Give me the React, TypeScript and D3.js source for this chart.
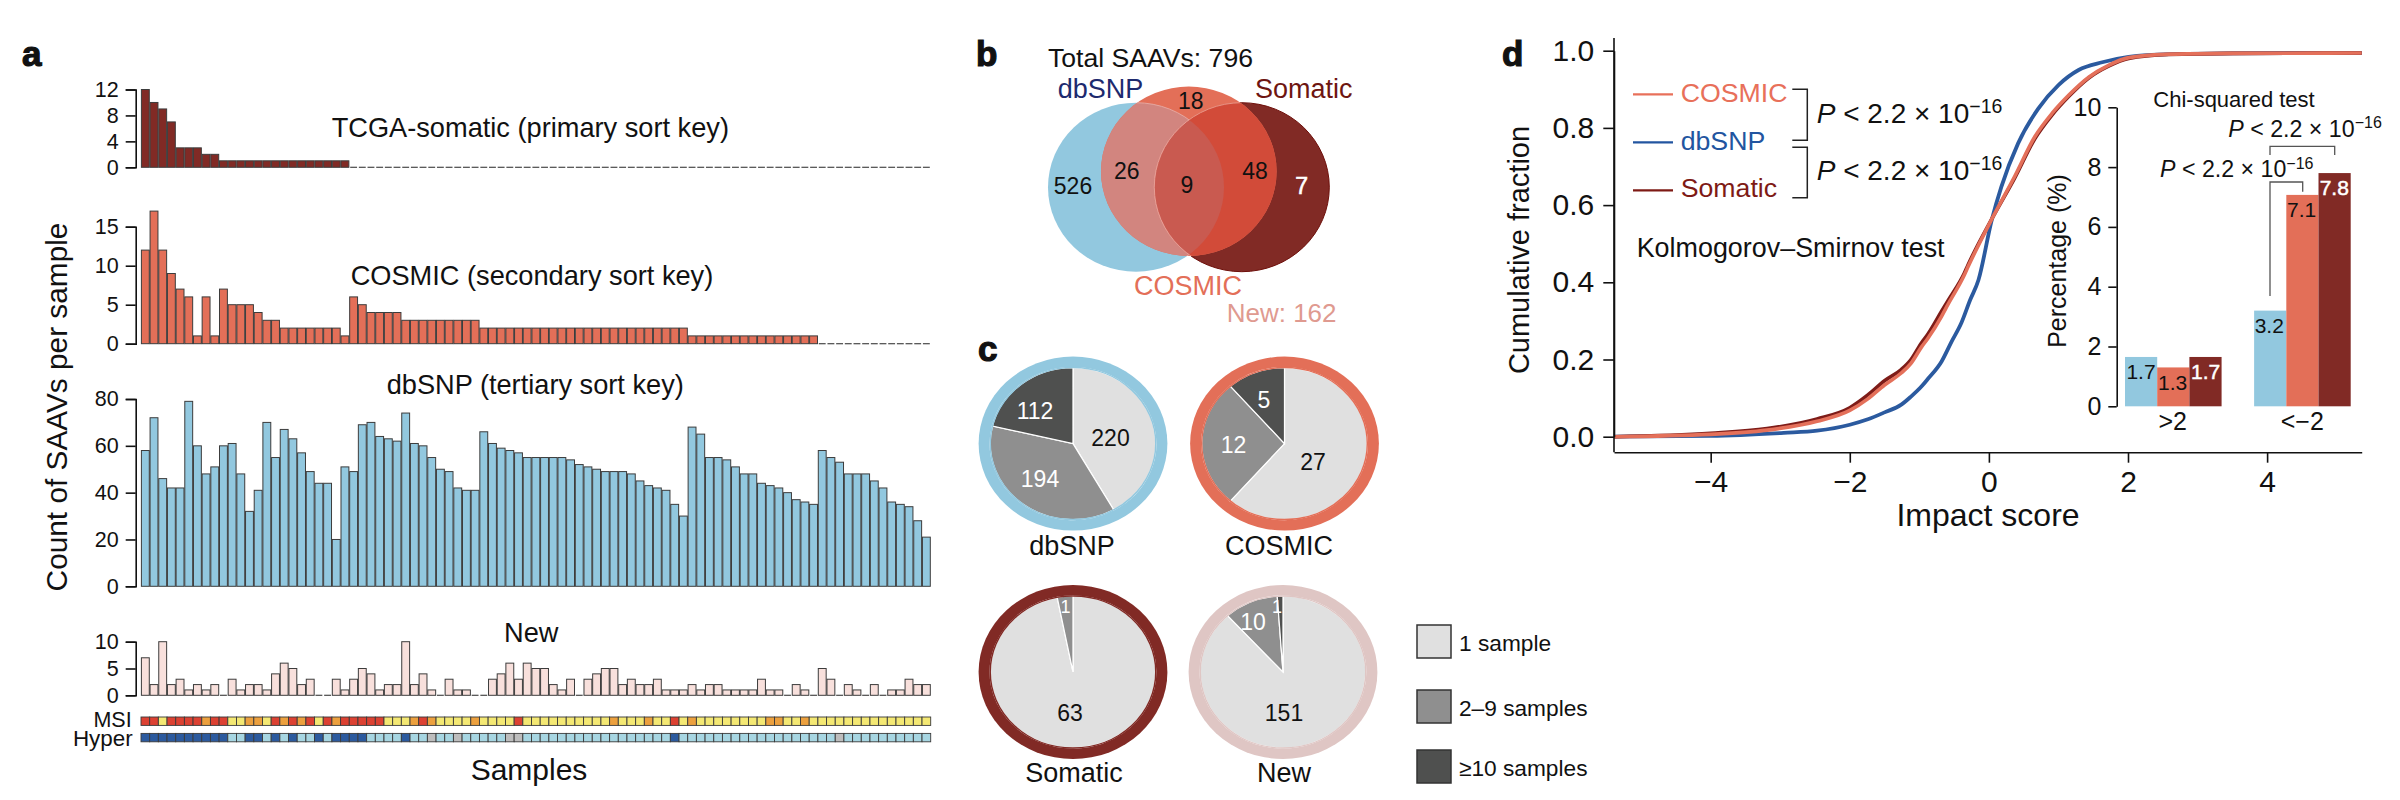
import React, { useEffect, useRef } from "react";
import * as d3 from "d3";

const FONT = "'Liberation Sans', Arial, Helvetica, sans-serif";

// ---- Panel a ----
const somaticCounts = [12,10,9,7,3,3,3,2,2,1,1,1,1,1,1,1,1,1,1,1,1,1,1,1,0,0,0,0,0,0,0,0,0,0,0,0,0,0,0,0,0,0,0,0,0,0,0,0,0,0,0,0,0,0,0,0,0,0,0,0,0,0,0,0,0,0,0,0,0,0,0,0,0,0,0,0,0,0,0,0,0,0,0,0,0,0,0,0,0,0,0];
const cosmicCounts = [12,17,12,9,7,6,1,6,1,7,5,5,5,4,3,3,2,2,2,2,2,2,2,1,6,5,4,4,4,4,3,3,3,3,3,3,3,3,3,2,2,2,2,2,2,2,2,2,2,2,2,2,2,2,2,2,2,2,2,2,2,2,2,1,1,1,1,1,1,1,1,1,1,1,1,1,1,1,0,0,0,0,0,0,0,0,0,0,0,0,0];
const dbsnpCounts = [58,72,46,42,42,79,60,48,51,60,61,48,32,41,70,55,67,63,57,49,44,44,20,51,49,69,70,64,63,62,74,61,60,55,50,49,42,41,41,66,61,59,58,57,55,55,55,55,55,54,52,51,50,49,49,49,48,45,43,42,41,35,30,68,65,55,55,54,51,48,48,44,43,42,40,37,36,35,58,55,53,48,48,48,45,42,36,35,34,28,21];
const newCounts = [7,2,10,2,3,1,2,1,2,0,3,1,2,2,1,4,6,5,2,3,0,0,3,1,3,5,4,1,2,2,10,2,4,1,0,3,1,1,0,0,3,4,6,3,6,5,5,2,1,3,0,3,4,5,5,2,3,2,2,3,1,1,1,2,1,2,2,1,1,1,1,3,1,1,0,2,1,0,5,3,0,2,1,0,2,0,1,1,3,2,2];
const msiStatus = "RRYRRRRORRYYOOYRORORYRORRRRRYYYOROYYYYOYYYYRYYYYYYYYYYOYYYOYYRYOYYYYYYYYOOYYOYYYYYYYYYYYYYY".split("");
const hyperStatus = "BBBBBBBBBBLLBBLBLBLLBLBBBBLLLLBLLGLLGLLLLLGGLLLLLLLLLLLLLLLLLBLLLLLLLLLLLLLLLLLLGLLLLLLLLLL".split("");
const msiColors: Record<string, string> = { R: "#dc4132", O: "#eca03e", Y: "#f4e873" };
const hyperColors: Record<string, string> = { B: "#2c5a9e", L: "#a7d6e2", G: "#bdbdbd" };

// ---- Panel b ----
const vennLabels = ["526", "26", "9", "48", "7", "18"];

// ---- Panel c ----
const sharingLevels = ["1 sample", "2–9 samples", "≥10 samples"];
const dbsnpSharing = [220, 194, 112];
const cosmicSharing = [27, 12, 5];
const somaticSharing = [63, 1];
const newSharing = [151, 10, 1];
// the two pies with tiny slices are not drawn to count in the reference: degrees
const somaticSliceDegrees = [349, 11];
const newSliceDegrees = [318, 38, 4];

// ---- Panel d ----
const dbsnpCurveX = [-5.39,-4,-2.95,-2.47,-2,-1.74,-1.5,-1.26,-1.12,-0.97,-0.876,-0.68,-0.54,-0.395,-0.27,-0.15,0.04,0.18,0.42,0.71,1.0,1.29,1.63,2.01,2.59,3.5,5.36];
const dbsnpCurveY = [0,0.002,0.01,0.0155,0.031,0.045,0.063,0.083,0.104,0.13,0.15,0.195,0.245,0.295,0.354,0.406,0.561,0.648,0.76,0.85,0.911,0.95,0.97,0.984,0.991,0.993,0.994];
const cosmicCurveX = [-5.39,-4,-3.19,-2.47,-2,-1.74,-1.5,-1.26,-1.12,-0.97,-0.876,-0.68,-0.59,-0.35,-0.3,0.06,0.37,0.66,0.91,1.15,1.44,1.72,2.01,2.59,3.5,5.36];
const cosmicCurveY = [0,0.006,0.017,0.04,0.068,0.098,0.134,0.165,0.19,0.232,0.255,0.312,0.342,0.42,0.44,0.57,0.674,0.777,0.838,0.885,0.932,0.962,0.982,0.991,0.993,0.994];
const somaticCurveX = [-5.39,-4,-3.19,-2.47,-2,-1.74,-1.5,-1.26,-1.12,-0.97,-0.876,-0.68,-0.59,-0.35,-0.3,0.06,0.37,0.66,0.91,1.15,1.44,1.72,2.01,2.59,3.5,5.36];
const somaticCurveY = [0,0.009,0.021,0.046,0.075,0.108,0.145,0.174,0.2,0.243,0.266,0.325,0.352,0.425,0.445,0.57,0.67,0.772,0.834,0.882,0.93,0.96,0.98,0.99,0.993,0.994];

const insetGroups = [">2", "<−2"];
const insetSeries = ["dbSNP", "COSMIC", "Somatic"];
const insetAbove2 = [1.65, 1.3, 1.65];
const insetBelow2 = [3.2, 7.07, 7.8];
const insetAbove2Labels = ["1.7", "1.3", "1.7"];
const insetBelow2Labels = ["3.2", "7.1", "7.8"];

const C_DB = "#92c8df";
const C_CO = "#e36f58";
const C_SO = "#812a25";
const C_NEW = "#f8e0dc";

export default function App() {
  const ref = useRef<SVGSVGElement>(null);
  useEffect(() => {
    const svg = d3.select(ref.current);
    svg.selectAll("*").remove();
    const root = svg.append("g").attr("font-family", FONT);

    const text = (s: string, x: number, y: number, size: number, opts: any = {}) => {
      const t = root.append("text").attr("x", x).attr("y", y).attr("font-size", size)
        .attr("text-anchor", opts.anchor || "start").attr("fill", opts.fill || "#111").text(s);
      if (opts.rotate) t.attr("transform", `rotate(-90 ${x} ${y})`);
      if (opts.weight) t.attr("font-weight", opts.weight);
      if (opts.stroke) t.attr("stroke", opts.stroke).attr("stroke-width", opts.strokeWidth || 0.6);
      return t;
    };
    const panelLabel = (s: string, x: number, y: number) =>
      text(s, x, y, 35, { weight: "bold", stroke: "#111", strokeWidth: 1.2 });

    const pValue = (x: number, y: number, size: number, sup: number) => {
      const t = root.append("text").attr("x", x).attr("y", y).attr("font-size", size).attr("fill", "#111");
      t.append("tspan").attr("font-style", "italic").text("P");
      t.append("tspan").text(" < 2.2 × 10");
      t.append("tspan").attr("font-size", sup).attr("dy", -size * 0.36).text("−16");
    };

    // ---------- a ----------
    const samples = d3.range(somaticCounts.length);
    const xBand = d3.scaleBand<number>().domain(samples).range([141, 930.7]);
    const step = xBand.step();

    const barPanel = (values: number[], domain: number[], range: number[], ticks: number[], fill: string) => {
      const y = d3.scaleLinear().domain(domain).range(range);
      const g = root.append("g");
      g.selectAll("rect").data(values).join("rect")
        .attr("x", (d, i) => xBand(i)! + (d === 0 ? 0.9 : 0.4))
        .attr("width", (d) => (d === 0 ? step - 1.8 : step - 0.8))
        .attr("y", (d) => (d === 0 ? y(0) - 0.6 : y(d)))
        .attr("height", (d) => (d === 0 ? 1.2 : y(0) - y(d)))
        .attr("fill", (d) => (d === 0 ? "#4a4a4a" : fill))
        .attr("stroke", (d) => (d === 0 ? "none" : "#3c3c3c"))
        .attr("stroke-width", 1);
      const ax = root.append("g").attr("transform", "translate(135.7,0)")
        .call(d3.axisLeft(y).tickValues(ticks).tickSizeOuter(0).tickSize(10).tickPadding(7) as any);
      ax.attr("font-family", FONT).attr("font-size", 21.5);
      ax.selectAll("text").attr("fill", "#111");
      ax.selectAll("line").attr("stroke", "#111").attr("stroke-width", 1.6);
      ax.select(".domain").attr("stroke", "#111").attr("stroke-width", 1.6);
    };
    barPanel(somaticCounts, [0, 12], [167.3, 89.5], [0, 4, 8, 12], C_SO);
    barPanel(cosmicCounts, [0, 15], [343.7, 226.7], [0, 5, 10, 15], C_CO);
    barPanel(dbsnpCounts, [0, 80], [586.3, 399], [0, 20, 40, 60, 80], C_DB);
    barPanel(newCounts, [0, 10], [695.3, 641.7], [0, 5, 10], C_NEW);

    const strip = (vals: string[], colors: Record<string, string>, y0: number, h: number) => {
      root.append("g").selectAll("rect").data(vals).join("rect")
        .attr("x", (_, i) => xBand(i)!)
        .attr("width", step)
        .attr("y", y0)
        .attr("height", h)
        .attr("fill", (d) => colors[d])
        .attr("stroke", "#3a3a3a")
        .attr("stroke-width", 0.9);
    };
    strip(msiStatus, msiColors, 717, 8.4);
    strip(hyperStatus, hyperColors, 733.4, 8.4);

    panelLabel("a", 22, 66);
    text("TCGA-somatic (primary sort key)", 331.7, 136.7, 27.2);
    text("COSMIC (secondary sort key)", 350.7, 285, 27.2);
    text("dbSNP (tertiary sort key)", 386.7, 394, 27.2);
    text("New", 504, 642, 27.2);
    text("MSI", 131.7, 726.7, 21.5, { anchor: "end" });
    text("Hyper", 132.7, 745.7, 22.4, { anchor: "end" });
    text("Samples", 529, 780, 30, { anchor: "middle" });
    text("Count of SAAVs per sample", 66.7, 407, 29.8, { anchor: "middle", rotate: true });

    // ---------- b ----------
    const defs = root.append("defs");
    const circles = {
      db: { cx: 1136, cy: 187.2, rx: 88, ry: 84.5 },
      co: { cx: 1188.8, cy: 171.3, rx: 87.8, ry: 84.7 },
      so: { cx: 1241.8, cy: 187.2, rx: 87.5, ry: 84.5 },
    };
    const ell = (parent: any, c: any) =>
      parent.append("ellipse").attr("cx", c.cx).attr("cy", c.cy).attr("rx", c.rx).attr("ry", c.ry);
    ell(defs.append("clipPath").attr("id", "clipCo"), circles.co);
    ell(defs.append("clipPath").attr("id", "clipDb"), circles.db);
    ell(defs.append("clipPath").attr("id", "clipSo"), circles.so);
    ell(root, circles.db).attr("fill", C_DB);
    ell(root, circles.so).attr("fill", C_SO).attr("stroke", "#6e0f0a").attr("stroke-width", 1);
    ell(root, circles.co).attr("fill", C_CO);
    const cg = root.append("g").attr("clip-path", "url(#clipCo)");
    ell(cg, circles.db).attr("fill", "#d2857f").attr("stroke", "#e9b3ad").attr("stroke-width", 0.8);
    ell(cg, circles.so).attr("fill", "#d24b39").attr("stroke", "#e9a093").attr("stroke-width", 0.8);
    const tg = cg.append("g").attr("clip-path", "url(#clipDb)");
    ell(tg, circles.so).attr("fill", "#c95a50").attr("stroke", "#eaa79f").attr("stroke-width", 0.8);

    panelLabel("b", 976, 66);
    text("Total SAAVs: 796", 1048, 66.7, 26.6);
    text("dbSNP", 1057.7, 98.3, 27, { fill: "#1d2a6e" });
    text("Somatic", 1255, 98.3, 27, { fill: "#6e1511" });
    text("COSMIC", 1134, 295, 27, { fill: C_CO });
    text("New: 162", 1226.7, 321.5, 26, { fill: "#df9a90" });
    const vennPos = [[1073, 194], [1126.7, 179], [1187, 193], [1255, 179], [1301.7, 194], [1190.7, 109]];
    vennLabels.forEach((s, i) => {
      const white = s === "7";
      text(s, vennPos[i][0], vennPos[i][1], 23, { anchor: "middle", fill: white ? "#fff" : "#111", stroke: white ? "#fff" : undefined, strokeWidth: 0.6 });
    });

    // ---------- c ----------
    const pieGen = d3.pie<number>().sort(null).value((d) => d);
    const arcGen = d3.arc<d3.PieArcDatum<number>>().innerRadius(0).outerRadius(80);
    const pieColors = ["#e0e0e0", "#8f8f8f", "#4f504f"];
    const drawPie = (vals: number[], cx: number, cy: number, ring: string) => {
      root.append("ellipse").attr("cx", cx).attr("cy", cy).attr("rx", 94.4).attr("ry", 87).attr("fill", ring);
      const g = root.append("g").attr("transform", `translate(${cx},${cy}) scale(${82.8 / 80},${76 / 80})`);
      g.selectAll("path").data(pieGen(vals)).join("path")
        .attr("d", arcGen as any)
        .attr("fill", (_, i) => pieColors[i])
        .attr("stroke", "#fff")
        .attr("stroke-width", 1.2);
      root.append("ellipse").attr("cx", cx).attr("cy", cy).attr("rx", 82.8).attr("ry", 76).attr("fill", "none").attr("stroke", ring).attr("stroke-width", 1.5);
    };
    drawPie(dbsnpSharing, 1073, 443.6, C_DB);
    drawPie(cosmicSharing, 1284.5, 443.6, C_CO);
    drawPie(somaticSliceDegrees, 1073, 672, C_SO);
    drawPie(newSliceDegrees, 1283, 672, "#dfc6c4");

    panelLabel("c", 978, 361);
    const pieText: [number, number, number, number, string][] = [
      [dbsnpSharing[0], 1110.5, 446, 23, "#111"],
      [dbsnpSharing[1], 1040, 487, 23, "#fff"],
      [dbsnpSharing[2], 1035, 419, 23, "#fff"],
      [cosmicSharing[0], 1313, 470, 23, "#111"],
      [cosmicSharing[1], 1233.5, 453, 23, "#fff"],
      [cosmicSharing[2], 1264, 408, 23, "#fff"],
      [somaticSharing[0], 1070, 721, 23, "#111"],
      [somaticSharing[1], 1065.5, 613, 18, "#fff"],
      [newSharing[0], 1284, 721, 23, "#111"],
      [newSharing[1], 1253, 630, 23, "#fff"],
      [newSharing[2], 1277, 613, 18, "#fff"],
    ];
    pieText.forEach(([v, x, y, s, f]) => text(String(v), x, y, s, { anchor: "middle", fill: f }));
    text("dbSNP", 1072, 555.4, 27, { anchor: "middle" });
    text("COSMIC", 1279, 555.4, 27, { anchor: "middle" });
    text("Somatic", 1074, 782, 27, { anchor: "middle" });
    text("New", 1284, 782, 27, { anchor: "middle" });
    const legendY = [625, 690, 750];
    sharingLevels.forEach((s, i) => {
      root.append("rect").attr("x", 1417).attr("y", legendY[i]).attr("width", 34).attr("height", 33)
        .attr("fill", pieColors[i]).attr("stroke", "#333").attr("stroke-width", 1.5);
      text(s, 1459, legendY[i] + 26, 22.7);
    });

    // ---------- d ----------
    const xD = d3.scaleLinear().domain([-5.39, 5.36]).range([1614, 2361.7]);
    const yD = d3.scaleLinear().domain([0, 1]).range([436.7, 50.7]);
    const line = d3.line<number>().curve(d3.curveMonotoneX);
    const drawCurve = (xs: number[], ys: number[], color: string, w: number) => {
      root.append("path")
        .attr("d", line(xs.map((x, i) => [xD(x), yD(ys[i])] as any) as any))
        .attr("fill", "none").attr("stroke", color).attr("stroke-width", w).attr("stroke-linejoin", "round");
    };
    drawCurve(dbsnpCurveX, dbsnpCurveY, "#2b5a9f", 3.8);
    drawCurve(somaticCurveX, somaticCurveY, "#7e1c18", 3.6);
    drawCurve(cosmicCurveX, cosmicCurveY, "#e4705a", 3.6);

    const axStyle = (ax: any, size: number) => {
      ax.attr("font-family", FONT).attr("font-size", size);
      ax.selectAll("text").attr("fill", "#111");
      ax.selectAll("line").attr("stroke", "#111").attr("stroke-width", 1.6);
      ax.select(".domain").attr("stroke", "#111").attr("stroke-width", 1.6);
    };
    const yAx = root.append("g").attr("transform", "translate(1614,0)")
      .call(d3.axisLeft(yD).tickValues([0, 0.2, 0.4, 0.6, 0.8, 1]).tickFormat(d3.format(".1f") as any).tickSize(10.7).tickSizeOuter(0).tickPadding(9) as any);
    axStyle(yAx, 30);
    root.append("line").attr("x1", 1614).attr("x2", 1614).attr("y1", 38).attr("y2", 452.3).attr("stroke", "#111").attr("stroke-width", 1.6);
    const xAx = root.append("g").attr("transform", "translate(0,452.3)")
      .call(d3.axisBottom(xD).tickValues([-4, -2, 0, 2, 4]).tickFormat(d3.format("d") as any).tickSize(10.4).tickSizeOuter(0).tickPadding(8) as any);
    axStyle(xAx, 30);

    panelLabel("d", 1502, 66);
    text("Cumulative fraction", 1529, 250, 29, { anchor: "middle", rotate: true });
    text("Impact score", 1988, 525.7, 32, { anchor: "middle" });

    const legendEntries: [string, string, number, number][] = [
      ["COSMIC", "#e8705a", 94.3, 101.7],
      ["dbSNP", "#2255a0", 142.3, 150],
      ["Somatic", "#7e1a15", 190.3, 197.3],
    ];
    legendEntries.forEach(([s, c, ly, by]) => {
      root.append("line").attr("x1", 1633).attr("x2", 1673).attr("y1", ly).attr("y2", ly).attr("stroke", c).attr("stroke-width", 2.2);
      text(s, 1680.7, by, 26.7, { fill: c });
    });
    const bracket = (pts: [number, number][], color = "#222", w = 1.5) => {
      root.append("path").attr("d", d3.line()(pts)!).attr("fill", "none").attr("stroke", color).attr("stroke-width", w);
    };
    bracket([[1792.3, 89.3], [1807.3, 89.3], [1807.3, 140.3], [1792.3, 140.3]]);
    bracket([[1792.3, 147.3], [1807.3, 147.3], [1807.3, 197.7], [1792.3, 197.7]]);
    pValue(1816.7, 122.7, 28, 19.5);
    pValue(1816.7, 180, 28, 19.5);
    text("Kolmogorov–Smirnov test", 1636.7, 257.3, 26.9);

    // inset
    const yIn = d3.scaleLinear().domain([0, 10]).range([406.3, 107.3]);
    const xOuter = d3.scaleBand().domain(insetGroups).range([2125, 2350.7]).paddingInner(0.252);
    const xInner = d3.scaleBand().domain(insetSeries).range([0, xOuter.bandwidth()]);
    const insetColors = [C_DB, C_CO, C_SO];
    const drawGroup = (group: string, vals: number[]) => {
      root.append("g").attr("transform", `translate(${xOuter(group)},0)`)
        .selectAll("rect").data(vals).join("rect")
        .attr("x", (_, i) => xInner(insetSeries[i])!)
        .attr("width", xInner.bandwidth())
        .attr("y", (d) => yIn(d))
        .attr("height", (d) => yIn(0) - yIn(d))
        .attr("fill", (_, i) => insetColors[i]);
    };
    drawGroup(insetGroups[0], insetAbove2);
    drawGroup(insetGroups[1], insetBelow2);
    const inAx = root.append("g").attr("transform", "translate(2116.7,0)")
      .call(d3.axisLeft(yIn).tickValues([0, 2, 4, 6, 8, 10]).tickFormat(d3.format("d") as any).tickSize(8.4).tickSizeOuter(0).tickPadding(7) as any);
    axStyle(inAx, 25);
    const barLabels: [string, number, number, string][] = [
      [insetAbove2Labels[0], 2141, 379.3, "#111"],
      [insetAbove2Labels[1], 2172.7, 390, "#111"],
      [insetAbove2Labels[2], 2205.7, 379.3, "#fff"],
      [insetBelow2Labels[0], 2269.3, 333.3, "#111"],
      [insetBelow2Labels[1], 2301.7, 217.3, "#111"],
      [insetBelow2Labels[2], 2334.3, 195, "#fff"],
    ];
    barLabels.forEach(([s, x, y, f]) => text(s, x, y, 21, { anchor: "middle", fill: f, stroke: f === "#fff" ? "#fff" : undefined, strokeWidth: 0.5 }));
    text(insetGroups[0], 2172.7, 430, 25, { anchor: "middle" });
    text(insetGroups[1], 2302.3, 430, 25, { anchor: "middle" });
    text("Percentage (%)", 2065.7, 261, 25, { anchor: "middle", rotate: true });
    text("Chi-squared test", 2153.3, 107.3, 22);
    pValue(2228.3, 136.7, 23.2, 16);
    pValue(2160, 177.3, 23.2, 16);
    bracket([[2270, 155], [2270, 146.3], [2334.7, 146.3], [2334.7, 155]], "#555", 1.3);
    bracket([[2270, 296], [2270, 182], [2302.7, 182], [2302.7, 191.7]], "#555", 1.3);
  }, []);
  return <svg ref={ref} width={2400} height={800} style={{ position: "absolute", left: 0, top: 0, background: "#fff" }} />;
}
